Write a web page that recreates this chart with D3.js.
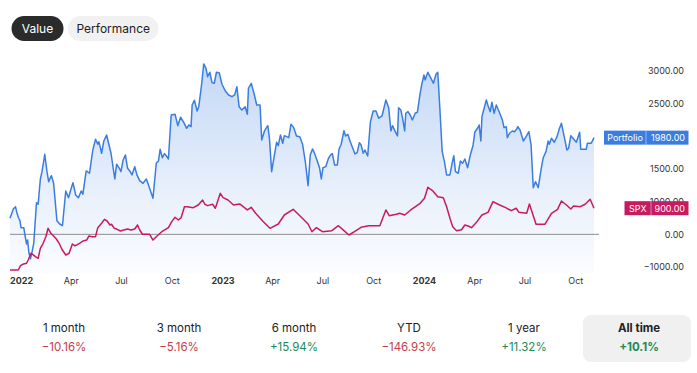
<!DOCTYPE html>
<html>
<head>
<meta charset="utf-8">
<script src="https://cdn.jsdelivr.net/npm/d3@7"></script>
<style>
  html, body { margin: 0; padding: 0; background: #fff; }
  svg { display: block; font-family: Inter, "Noto Sans", sans-serif; }
</style>
</head>
<body>
<svg id="chart" width="697" height="373"></svg>
<script>
// ---------- DATA ----------
const portfolioDates = ["2021-12-12","2021-12-18","2021-12-22","2021-12-24","2021-12-27","2021-12-30","2022-01-01","2022-01-06","2022-01-08","2022-01-11","2022-01-13","2022-01-15","2022-01-18","2022-01-21","2022-01-24","2022-01-29","2022-02-01","2022-02-05","2022-02-08","2022-02-13","2022-02-17","2022-02-20","2022-02-25","2022-03-01","2022-03-07","2022-03-12","2022-03-17","2022-03-23","2022-03-28","2022-04-01","2022-04-05","2022-04-10","2022-04-15","2022-04-20","2022-04-23","2022-04-29","2022-05-05","2022-05-11","2022-05-16","2022-05-20","2022-05-22","2022-05-27","2022-05-31","2022-06-05","2022-06-09","2022-06-13","2022-06-17","2022-06-20","2022-06-23","2022-06-28","2022-07-01","2022-07-05","2022-07-09","2022-07-13","2022-07-17","2022-07-21","2022-07-26","2022-07-30","2022-08-04","2022-08-10","2022-08-16","2022-08-21","2022-08-28","2022-09-03","2022-09-07","2022-09-10","2022-09-14","2022-09-18","2022-09-21","2022-09-25","2022-09-30","2022-10-07","2022-10-12","2022-10-17","2022-10-23","2022-10-28","2022-11-01","2022-11-05","2022-11-07","2022-11-11","2022-11-16","2022-11-19","2022-11-24","2022-11-28","2022-12-02","2022-12-05","2022-12-09","2022-12-13","2022-12-17","2022-12-21","2022-12-26","2022-12-31","2023-01-06","2023-01-12","2023-01-18","2023-01-23","2023-01-27","2023-01-31","2023-02-05","2023-02-11","2023-02-15","2023-02-17","2023-02-22","2023-02-27","2023-03-04","2023-03-10","2023-03-13","2023-03-18","2023-03-24","2023-03-27","2023-03-31","2023-04-04","2023-04-09","2023-04-12","2023-04-16","2023-04-20","2023-04-23","2023-04-27","2023-05-01","2023-05-05","2023-05-10","2023-05-15","2023-05-21","2023-05-26","2023-05-31","2023-06-05","2023-06-09","2023-06-13","2023-06-17","2023-06-21","2023-06-26","2023-06-29","2023-07-02","2023-07-07","2023-07-12","2023-07-16","2023-07-19","2023-07-23","2023-07-28","2023-07-31","2023-08-04","2023-08-09","2023-08-12","2023-08-16","2023-08-20","2023-08-25","2023-08-29","2023-09-02","2023-09-06","2023-09-09","2023-09-13","2023-09-16","2023-09-21","2023-09-26","2023-10-01","2023-10-06","2023-10-11","2023-10-17","2023-10-24","2023-10-29","2023-11-02","2023-11-05","2023-11-10","2023-11-14","2023-11-16","2023-11-20","2023-11-23","2023-11-27","2023-11-29","2023-12-03","2023-12-07","2023-12-11","2023-12-16","2023-12-20","2023-12-25","2023-12-28","2024-01-01","2024-01-03","2024-01-08","2024-01-13","2024-01-18","2024-01-23","2024-01-26","2024-01-30","2024-02-03","2024-02-07","2024-02-11","2024-02-17","2024-02-21","2024-02-24","2024-02-27","2024-03-03","2024-03-07","2024-03-11","2024-03-15","2024-03-20","2024-03-25","2024-03-30","2024-04-02","2024-04-07","2024-04-10","2024-04-13","2024-04-15","2024-04-19","2024-04-23","2024-04-26","2024-04-30","2024-05-03","2024-05-07","2024-05-11","2024-05-14","2024-05-18","2024-05-22","2024-05-25","2024-05-29","2024-05-31","2024-06-04","2024-06-09","2024-06-13","2024-06-17","2024-06-19","2024-06-23","2024-06-29","2024-07-04","2024-07-09","2024-07-13","2024-07-17","2024-07-21","2024-07-26","2024-07-31","2024-08-04","2024-08-09","2024-08-13","2024-08-15","2024-08-19","2024-08-24","2024-08-29","2024-09-02","2024-09-06","2024-09-11","2024-09-16","2024-09-19","2024-09-23","2024-09-28","2024-10-03","2024-10-09","2024-10-11","2024-10-21","2024-10-23","2024-10-30","2024-11-04"];
const portfolioValues = [746,888,923,847,761,709,602,602,490,352,413,234,122,234,363,984,960,1347,1459,1725,1459,1306,1398,1281,709,658,632,1164,1061,1179,1291,1102,1061,1164,1113,1470,1435,1791,1955,1879,1918,1741,1929,2021,1879,1741,1511,1347,1572,1511,1459,1638,1715,1511,1470,1409,1536,1409,1321,1281,1347,1229,1052,1588,1623,1802,1673,1735,1704,1653,2327,2338,2163,2292,2209,2123,2174,2148,2480,2552,2388,2454,2786,3108,3042,2913,2981,2822,2812,2981,2975,2797,2695,2633,2607,2633,2760,2454,2404,2454,2338,2736,2812,2659,2480,2480,1944,2082,2163,1970,1459,1664,1909,1857,2021,1894,2010,1995,1980,2185,2133,2006,1995,1879,1612,1245,1715,1807,1735,1638,1511,1347,1520,1536,1664,1715,1735,1562,1562,1802,1879,2087,2006,2032,1929,1817,1730,1750,1903,1868,1741,1791,1699,2225,2388,2388,2277,2312,2557,2439,2082,2163,2071,2006,2439,2404,2286,2082,2353,2378,2327,2251,2353,2368,2659,2797,2940,2863,2981,2898,2812,2955,2981,2388,1765,1612,1409,1409,1588,1704,1459,1435,1623,1588,1653,1520,1715,1868,2062,2123,2174,1929,2301,2430,2557,2469,2378,2522,2353,2480,2419,2338,2251,2133,2148,1980,2047,2082,2071,2113,2148,2097,1929,1995,2071,1868,1214,1306,1214,1485,1673,1765,1929,1879,1970,1909,1995,2113,2200,1995,1791,1817,2010,1960,1909,2062,1802,1802,1894,1894,1980];

const spxDates = ["2021-12-12","2021-12-27","2021-12-31","2022-01-04","2022-01-11","2022-01-14","2022-01-19","2022-01-22","2022-01-27","2022-02-01","2022-02-05","2022-02-10","2022-02-15","2022-02-19","2022-02-24","2022-03-01","2022-03-06","2022-03-11","2022-03-16","2022-03-23","2022-03-29","2022-04-04","2022-04-08","2022-04-12","2022-04-17","2022-04-23","2022-04-30","2022-05-04","2022-05-10","2022-05-16","2022-05-20","2022-05-27","2022-06-01","2022-06-06","2022-06-11","2022-06-14","2022-06-19","2022-06-24","2022-06-30","2022-07-06","2022-07-13","2022-07-19","2022-07-26","2022-07-31","2022-08-04","2022-08-09","2022-08-22","2022-08-28","2022-09-03","2022-09-13","2022-09-25","2022-10-01","2022-10-07","2022-10-13","2022-10-18","2022-10-24","2022-10-29","2022-11-09","2022-11-18","2022-11-26","2022-11-30","2022-12-05","2022-12-14","2022-12-19","2022-12-28","2023-01-02","2023-01-11","2023-01-21","2023-02-01","2023-02-15","2023-02-22","2023-03-02","2023-03-16","2023-03-28","2023-04-12","2023-04-23","2023-05-09","2023-05-21","2023-05-27","2023-06-05","2023-06-12","2023-06-20","2023-07-01","2023-07-18","2023-07-30","2023-08-09","2023-08-18","2023-08-28","2023-09-09","2023-09-23","2023-10-13","2023-10-24","2023-10-30","2023-11-12","2023-11-18","2023-11-27","2023-12-08","2023-12-25","2024-01-02","2024-01-08","2024-01-17","2024-01-26","2024-02-05","2024-02-11","2024-02-17","2024-02-22","2024-02-29","2024-03-09","2024-03-15","2024-03-21","2024-03-27","2024-04-06","2024-04-15","2024-04-26","2024-05-05","2024-05-17","2024-05-28","2024-06-07","2024-06-16","2024-06-21","2024-07-05","2024-07-10","2024-07-22","2024-08-07","2024-08-19","2024-08-30","2024-09-06","2024-09-15","2024-09-23","2024-09-28","2024-10-10","2024-10-19","2024-10-28","2024-11-04"];
const spxValues = [-46,-46,20,41,57,107,210,194,158,133,286,363,464,593,516,475,429,363,271,184,210,352,326,337,363,398,413,475,464,464,602,669,730,704,643,654,592,577,551,566,582,566,582,643,566,501,501,413,464,540,602,694,761,720,755,923,923,908,949,1026,960,939,960,899,1128,1061,1026,949,965,873,914,822,694,592,658,796,883,785,735,658,540,602,540,556,632,556,490,540,608,632,632,873,785,807,822,796,873,975,1052,1220,1164,1076,1061,923,746,617,556,571,643,628,602,694,796,837,1000,949,908,862,899,837,822,965,654,654,822,883,1010,949,888,934,923,960,1036,900];

const seriesNames = ["Portfolio", "SPX"];
// tick positions and their printed labels (the 2000.00 tick sits fully behind the Portfolio tag)
const yTickValues = [3000, 2500, 1500, 1000, 500, 0];
const yTickLabels = ["3000.00", "2500.00", "1500.00", "1000.00", "0.00", "\u22121000.00"];
const xTickDates = ["2022-01-01","2022-04-01","2022-07-01","2022-10-01","2023-01-01","2023-04-01","2023-07-01","2023-10-01","2024-01-01","2024-04-01","2024-07-01","2024-10-01"];
const tabLabels = ["Value", "Performance"];
const periodLabels = ["1 month", "3 month", "6 month", "YTD", "1 year", "All time"];
const periodValues = [-10.16, -5.16, 15.94, -146.93, 11.32, 10.1];
const periodTexts = ["\u221210.16%", "\u22125.16%", "+15.94%", "\u2212146.93%", "+11.32%", "+10.1%"];
const zeroLineValue = 500;

// ---------- SETUP ----------
const parse = d3.timeParse("%Y-%m-%d");
const portfolio = portfolioDates.map((d, i) => ({ date: parse(d), value: portfolioValues[i] }));
const spx = spxDates.map((d, i) => ({ date: parse(d), value: spxValues[i] }));

const svg = d3.select("#chart");
const blue = "#3a7ddf";
const crimson = "#c81a60";

const x = d3.scaleTime()
  .domain([parse("2021-12-12"), parse("2024-11-04")])
  .range([10, 594]);
const y = d3.scaleLinear().domain([0, 3000]).range([267, 71]);

// gradient
const defs = svg.append("defs");
const grad = defs.append("linearGradient")
  .attr("id", "areaGrad").attr("gradientUnits", "userSpaceOnUse")
  .attr("x1", 0).attr("x2", 0).attr("y1", y(3100)).attr("y2", y(-90));
grad.append("stop").attr("offset", "0%").attr("stop-color", blue).attr("stop-opacity", 0.30);
grad.append("stop").attr("offset", "60%").attr("stop-color", blue).attr("stop-opacity", 0.12);
grad.append("stop").attr("offset", "100%").attr("stop-color", blue).attr("stop-opacity", 0.02);

// ---------- TABS ----------
const tabs = [{ x: 11.5, w: 52, fill: "#2b2b2b", color: "#ffffff" }, { x: 68, w: 90.5, fill: "#f1f1f1", color: "#222222" }];
tabLabels.forEach((t, i) => {
  const g = svg.append("g");
  g.append("rect").attr("x", tabs[i].x).attr("y", 16).attr("width", tabs[i].w).attr("height", 25)
    .attr("rx", 12.5).attr("fill", tabs[i].fill);
  g.append("text").attr("x", tabs[i].x + tabs[i].w / 2).attr("y", 28.5)
    .attr("text-anchor", "middle").attr("dominant-baseline", "central")
    .attr("font-size", 12).attr("fill", tabs[i].color).text(t);
});

// ---------- AREA + LINES ----------
svg.append("path").datum(portfolio)
  .attr("fill", "url(#areaGrad)")
  .attr("d", d3.area().x(d => x(d.date)).y0(y(-90)).y1(d => y(d.value)));

svg.append("line")
  .attr("x1", 10).attr("x2", 599).attr("y1", y(zeroLineValue)).attr("y2", y(zeroLineValue))
  .attr("stroke", "#8c8c8c").attr("stroke-width", 1);

svg.append("path").datum(portfolio)
  .attr("fill", "none").attr("stroke", blue).attr("stroke-width", 1.5).attr("stroke-linejoin", "round")
  .attr("d", d3.line().x(d => x(d.date)).y(d => y(d.value)));

svg.append("path").datum(spx)
  .attr("fill", "none").attr("stroke", crimson).attr("stroke-width", 1.5).attr("stroke-linejoin", "round")
  .attr("d", d3.line().x(d => x(d.date)).y(d => y(d.value)));

// ---------- Y AXIS ----------
const yAxis = d3.axisRight(y).tickValues(yTickValues).tickSize(0).tickPadding(0)
  .tickFormat((d, i) => yTickLabels[i]);
const yg = svg.append("g").attr("transform", "translate(684,0)").call(yAxis);
yg.select(".domain").remove();
yg.selectAll("text").attr("text-anchor", "end").attr("x", 0)
  .attr("font-family", "Inter, sans-serif").attr("font-size", 9).attr("fill", "#333");

// ---------- X AXIS ----------
const xAxis = d3.axisBottom(x).tickValues(xTickDates.map(parse)).tickSize(0).tickPadding(0)
  .tickFormat(d => d.getMonth() === 0 ? d3.timeFormat("%Y")(d) : d3.timeFormat("%b")(d));
const xg = svg.append("g").attr("transform", "translate(0,278)").call(xAxis);
xg.select(".domain").remove();
xg.selectAll("text").attr("font-family", "Inter, sans-serif").attr("font-size", 9).attr("fill", "#333")
  .attr("dy", "0.71em")
  .attr("font-weight", d => d.getMonth() === 0 ? 700 : 400);

// ---------- LAST VALUE LABELS ----------
const lastLabels = [
  { name: seriesNames[0], value: portfolioValues[portfolioValues.length - 1], color: blue, left: 604, div: 646 },
  { name: seriesNames[1], value: spxValues[spxValues.length - 1], color: crimson, left: 624.5, div: 651 }
];
lastLabels.forEach(l => {
  const cy = y(l.value);
  const g = svg.append("g");
  g.append("rect").attr("x", l.left).attr("y", cy - 7).attr("width", 688.5 - l.left).attr("height", 14)
    .attr("fill", l.color);
  g.append("line").attr("x1", l.div).attr("x2", l.div).attr("y1", cy - 7).attr("y2", cy + 7)
    .attr("stroke", "rgba(255,255,255,0.45)").attr("stroke-width", 1);
  g.append("text").attr("x", (l.left + l.div) / 2).attr("y", cy).attr("text-anchor", "middle")
    .attr("dominant-baseline", "central").attr("font-size", 9).attr("fill", "#fff").text(l.name);
  g.append("text").attr("x", 685).attr("y", cy).attr("text-anchor", "end")
    .attr("dominant-baseline", "central").attr("font-size", 9).attr("fill", "#fff")
    .text(d3.format(".2f")(l.value));
});

// ---------- PERIOD STATS ----------
const colW = 115;
periodLabels.forEach((p, i) => {
  const cx = 64 + i * colW;
  const isLast = i === periodLabels.length - 1;
  if (isLast) {
    svg.append("rect").attr("x", 583).attr("y", 315).attr("width", 108).attr("height", 47)
      .attr("rx", 8).attr("fill", "#f0f0f0");
  }
  svg.append("text").attr("x", cx).attr("y", 328).attr("text-anchor", "middle")
    .attr("dominant-baseline", "central").attr("font-size", 11.5)
    .attr("font-weight", isLast ? 700 : 400).attr("fill", "#222").text(p);
  svg.append("text").attr("x", cx).attr("y", 347).attr("text-anchor", "middle")
    .attr("dominant-baseline", "central").attr("font-size", 11.5)
    .attr("font-weight", isLast ? 700 : 400)
    .attr("fill", periodValues[i] < 0 ? "#c43d4b" : "#1b8a5a").text(periodTexts[i]);
});
</script>
</body>
</html>
